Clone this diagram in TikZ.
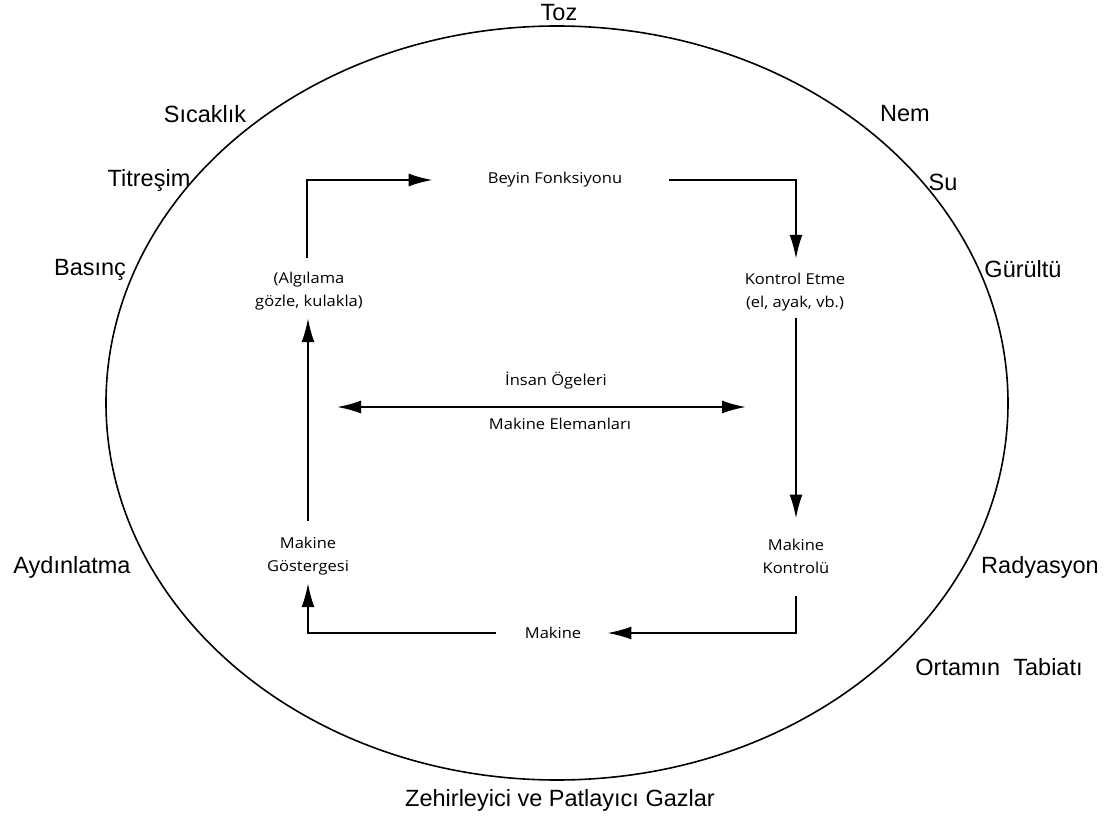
\documentclass[tikz,border=0pt]{standalone}
\usepackage{fontspec}
\setmainfont{Liberation Sans}
\newfontfamily\innerfont[FakeStretch=1.1]{Open Sans}
\usetikzlibrary{arrows.meta}
\tikzset{
  outer/.style={font=\fontsize{23.5}{28}\selectfont, inner sep=0pt},
  inner/.style={font=\innerfont\fontsize{15}{23}\selectfont, inner sep=0pt, align=center},
  arr/.style={line width=2pt, -{Latex[length=24pt,width=13pt]}},
  dbl/.style={line width=2pt, {Latex[length=24pt,width=13pt]}-{Latex[length=24pt,width=13pt]}},
  ring/.style={line width=1.6pt}
}
\begin{document}
\begin{tikzpicture}[x=1pt,y=-1pt]
\useasboundingbox (0,0) rectangle (1104,826);
% environment ellipse
\draw[ring] (557,403) ellipse [x radius=451, y radius=377];
% outer labels
\node[outer] (toz) at (559,13) {Toz};
\node[outer] (sic) at (205,114) {Sıcaklık};
\node[outer] (tit) at (149,180) {Titreşim};
\node[outer] (bas) at (90,270) {Basınç};
\node[outer] (ayd) at (72,567) {Aydınlatma};
\node[outer] (nem) at (905,114) {Nem};
\node[outer] (su) at (943,182) {Su};
\node[outer] (gur) at (1023,269) {Gürültü};
\node[outer] (rad) at (1040,567) {Radyasyon};
\node[outer] (ort) at (999,667) {Ortamın\ \ Tabiatı};
\node[outer] (zeh) at (560,800) {Zehirleyici ve Patlayıcı Gazlar};
% inner nodes
\node[inner] (beyin) at (555,180) {Beyin Fonksiyonu};
\node[inner] (alg) at (309,291) {(Algılama\\gözle, kulakla)};
\node[inner] (kon) at (795,292) {Kontrol Etme\\(el, ayak, vb.)};
\node[inner] (gos) at (308,556) {Makine\\Göstergesi};
\node[inner] (mkon) at (796,556) {Makine\\Kontrolü};
\node[inner] (mak) at (553,633) {Makine};
\node[inner] (ins) at (556,381) {İnsan Ögeleri};
\node[inner] (ele) at (560,424) {Makine Elemanları};
\coordinate (gl) at (337,407);
\coordinate (gr) at (746,407);
% connectors
\draw[arr, shorten <=14pt, shorten >=55pt] ([xshift=-2pt]alg.north) |- (beyin.west);
\draw[arr, shorten <=47pt, shorten >=14pt] (beyin.east) -| ([xshift=1pt]kon.north);
\draw[arr, shorten <=7pt, shorten >=20pt] ([xshift=1pt]kon.south) -- (mkon.north);
\draw[arr, shorten <=23pt, shorten >=26pt] (mkon.south) |- (mak.east);
\draw[arr, shorten <=29pt, shorten >=8pt] (mak.west) -| (gos.south);
\draw[arr, shorten <=16pt, shorten >=8pt] (gos.north) -- ([xshift=-1pt]alg.south);
\draw[dbl] (gl) -- (gr);
\end{tikzpicture}
\end{document}
